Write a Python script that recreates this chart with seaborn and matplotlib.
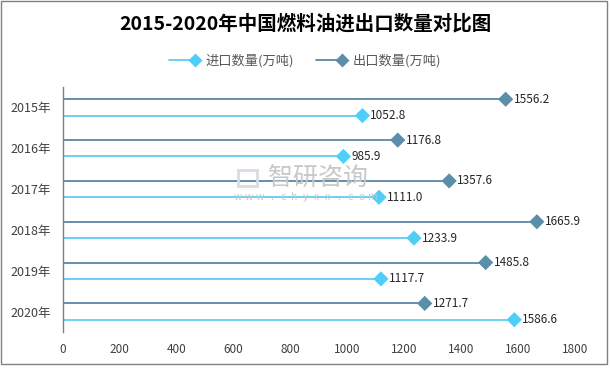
import matplotlib
matplotlib.use("Agg")
import matplotlib.pyplot as plt
from matplotlib.lines import Line2D
from matplotlib.patches import Rectangle
from matplotlib.legend_handler import HandlerBase
import seaborn as sns
import pandas as pd
import numpy as np

years = ["2015年", "2016年", "2017年", "2018年", "2019年", "2020年"]
import_vals = [1052.8, 985.9, 1111.0, 1233.9, 1117.7, 1586.6]
export_vals = [1556.2, 1176.8, 1357.6, 1665.9, 1485.8, 1271.7]
x_ticks = [0, 200, 400, 600, 800, 1000, 1200, 1400, 1600, 1800]
title = "2015-2020年中国燃料油进出口数量对比图"
imp_name = "进口数量(万吨)"
exp_name = "出口数量(万吨)"

sns.set_theme(style="white")
plt.rcParams['font.family'] = ['Noto Sans CJK SC', 'DejaVu Sans']

imp_color = "#4FCFF8"
imp_line = "#4FC8F0"
exp_color = "#5B8EA8"
exp_line = "#4E7C9C"

pos = np.arange(len(years))
off = 0.2
rows = []
for i, y in enumerate(years):
    rows.append({"year": y, "pos": pos[i] - off, "value": export_vals[i], "series": exp_name})
    rows.append({"year": y, "pos": pos[i] + off, "value": import_vals[i], "series": imp_name})
df = pd.DataFrame(rows)

fig = plt.figure(figsize=(6.1, 3.69), dpi=100)

# watermark (behind the axes)
fig.text(268/610, 1-178/369, "智研咨询", fontsize=18, color="#c8c8c8",
         ha="left", va="center", zorder=0)
wm = "www.chyxx.com"
for k, ch in enumerate(wm):
    fig.text((238 + k * 11.2)/610, 1-197/369, ch, fontsize=7.5, color="#c8c8c8",
             ha="center", va="center", zorder=0)
fig.patches.append(Rectangle((238/610, 1-186/369), 19/610, 16/369,
                             transform=fig.transFigure, fill=False,
                             edgecolor="#d6dde7", lw=2, zorder=0))

ax = fig.add_axes([63/610, 1-332/369, (575-63)/610, (332-87)/369])
ax.patch.set_alpha(0)

for _, r in df.iterrows():
    col = exp_line if r["series"] == exp_name else imp_line
    ax.hlines(r["pos"], 0, r["value"], color=col, lw=1.2, zorder=2)

sns.scatterplot(data=df, x="value", y="pos", hue="series",
                palette={imp_name: imp_color, exp_name: exp_color},
                marker="D", s=60, edgecolor="none", ax=ax, legend=False, zorder=3)

for _, r in df.iterrows():
    ax.text(r["value"] + 28, r["pos"], f"{r['value']:.1f}", va="center", ha="left",
            fontsize=8.5, color="#262626", zorder=4)

ax.set_xlim(0, 1800)
ax.set_ylim(len(years) - 0.5, -0.5)
ax.set_xticks(x_ticks)
ax.set_xticklabels([str(t) for t in x_ticks], fontsize=8.5, color="#404040")
ax.set_yticks(pos)
ax.set_yticklabels(years, fontsize=9, color="#404040")
ax.set_xlabel("")
ax.set_ylabel("")
for s in ["top", "right", "bottom"]:
    ax.spines[s].set_visible(False)
ax.spines["left"].set_color("#808080")
ax.spines["left"].set_linewidth(1)
ax.tick_params(axis="x", length=0, pad=8)
ax.tick_params(axis="y", length=0, pad=8.5)

fig.text(305/610, 1-24/369, title, ha="center", va="center", fontsize=14,
         fontweight="bold", color="#000000")


class LineDiamondHandler(HandlerBase):
    def create_artists(self, legend, orig_handle, xdescent, ydescent, width,
                       height, fontsize, trans):
        y = height / 2 - ydescent
        x0, x1 = -xdescent, width - xdescent
        ln = Line2D([x0, x1], [y, y], color=orig_handle.get_color(), lw=1.2)
        mk = Line2D([x1 - 3], [y], marker="D", markersize=7, linestyle="none",
                    markerfacecolor=orig_handle.get_markerfacecolor(),
                    markeredgecolor="none")
        ln.set_transform(trans)
        mk.set_transform(trans)
        return [ln, mk]


handles = [
    Line2D([], [], color=imp_line, markerfacecolor=imp_color),
    Line2D([], [], color=exp_line, markerfacecolor=exp_color),
]
leg = fig.legend(handles, [imp_name, exp_name], loc="center", ncol=2,
                 bbox_to_anchor=(305/610, 1-61/369), frameon=False,
                 fontsize=9.5, handlelength=2.3, handletextpad=0.5,
                 columnspacing=1.6,
                 handler_map={Line2D: LineDiamondHandler()})
for t in leg.get_texts():
    t.set_color("#595959")

fig.patches.append(Rectangle((1/610, 1-364/369), 606/610, 363/369,
                             transform=fig.transFigure, fill=False,
                             edgecolor="#808080", lw=1))

fig.savefig("out.png", dpi=100)
